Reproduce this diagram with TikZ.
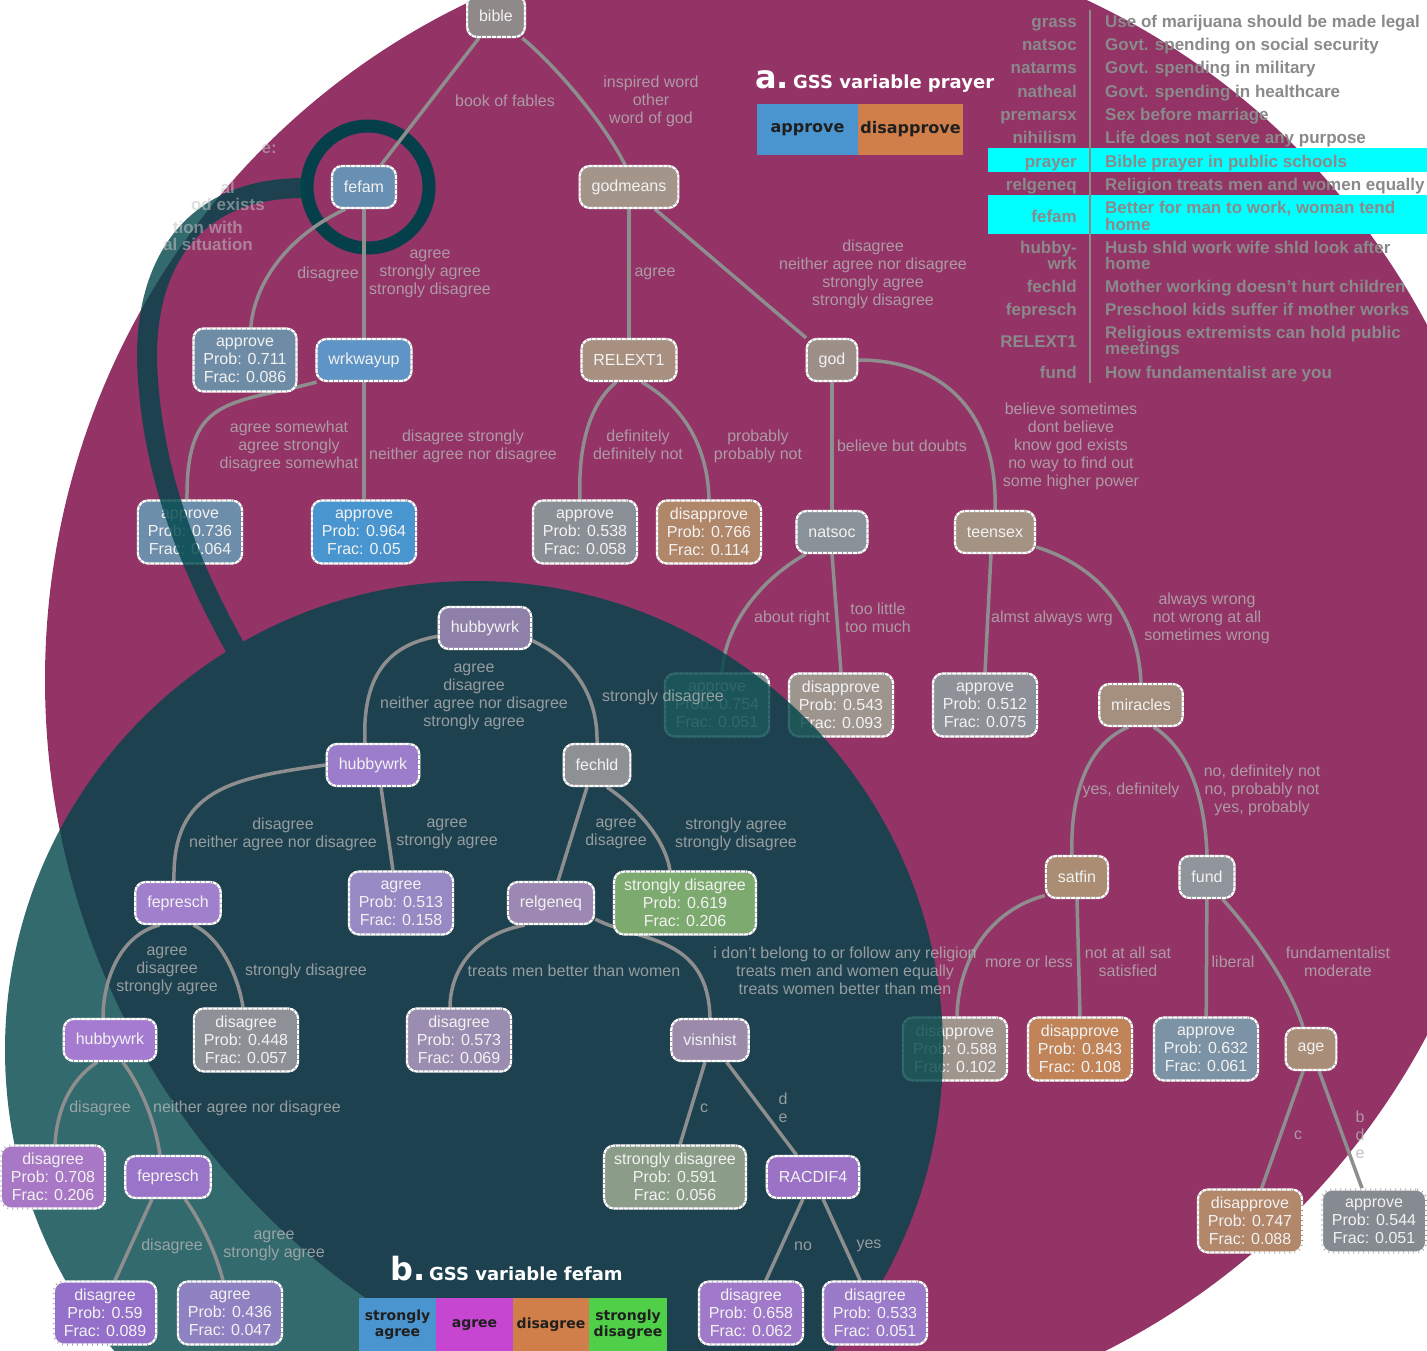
\documentclass[tikz,border=0pt]{standalone}
\usepackage{fontspec}
\setmainfont{Liberation Sans}
\newfontfamily\dejavu{DejaVu Sans}
\pgfdeclarelayer{bg}
\pgfdeclarelayer{aedge}
\pgfdeclarelayer{anode}
\pgfdeclarelayer{teal}
\pgfdeclarelayer{bedge}
\pgfdeclarelayer{top}
\pgfsetlayers{bg,aedge,anode,teal,bedge,main,top}
\definecolor{magc}{HTML}{933366}
\definecolor{tealc}{HTML}{00454A}
\definecolor{ringc}{HTML}{05404A}
\definecolor{edgec}{HTML}{8E8E8E}
\definecolor{labc}{HTML}{B4B4B4}
\definecolor{lgc}{HTML}{8A8A8A}
\definecolor{nodetxt}{HTML}{F2F2F2}
\definecolor{tickc}{HTML}{9A9A9A}
\definecolor{cyanc}{HTML}{00FFFF}
\definecolor{faintc}{HTML}{C4C4C4}
\definecolor{cbible}{HTML}{8F8A89}
\definecolor{cfefam}{HTML}{6890B2}
\definecolor{cgodm}{HTML}{A4958A}
\definecolor{ca711}{HTML}{6F8CA6}
\definecolor{cwrk}{HTML}{5F95C6}
\definecolor{crel}{HTML}{A89080}
\definecolor{cgod}{HTML}{9C8F88}
\definecolor{ca736}{HTML}{6C8EAA}
\definecolor{ca964}{HTML}{4895D0}
\definecolor{ca538}{HTML}{8B9097}
\definecolor{cd766}{HTML}{B1876A}
\definecolor{cnatsoc}{HTML}{8A9299}
\definecolor{cteen}{HTML}{A49382}
\definecolor{ca754}{HTML}{8B9297}
\definecolor{cd543}{HTML}{9E958F}
\definecolor{ca512}{HTML}{8E9197}
\definecolor{cmir}{HTML}{A58F7E}
\definecolor{csat}{HTML}{AA8D73}
\definecolor{cfund}{HTML}{8F959B}
\definecolor{cd588}{HTML}{A0958D}
\definecolor{cd843}{HTML}{C08458}
\definecolor{ca632}{HTML}{7C92A5}
\definecolor{cage}{HTML}{A88D78}
\definecolor{cd747}{HTML}{B2876A}
\definecolor{ca544}{HTML}{858B91}
\definecolor{chub0}{HTML}{8E80A8}
\definecolor{chub1}{HTML}{9B7DCC}
\definecolor{cfechld}{HTML}{8E9194}
\definecolor{cfep1}{HTML}{A07FCC}
\definecolor{cg513}{HTML}{9689C4}
\definecolor{crelg}{HTML}{9C88B2}
\definecolor{cs619}{HTML}{7DAA6F}
\definecolor{chub2}{HTML}{A57BD2}
\definecolor{cd448}{HTML}{8D9096}
\definecolor{cd573}{HTML}{9B8CB2}
\definecolor{cvis}{HTML}{9B8AAA}
\definecolor{cd708}{HTML}{A877C6}
\definecolor{cfep3}{HTML}{9A74C8}
\definecolor{cs591}{HTML}{8B9C88}
\definecolor{crac}{HTML}{9B72C6}
\definecolor{cd59}{HTML}{9570CA}
\definecolor{cg436}{HTML}{8F82C2}
\definecolor{cd658}{HTML}{A079CA}
\definecolor{cd533}{HTML}{9B7ACA}
\definecolor{lblue}{HTML}{4A94CF}
\definecolor{lorange}{HTML}{D07F4A}
\definecolor{lmag}{HTML}{C646D2}
\definecolor{lgreen}{HTML}{50CF48}
\begin{document}
\begin{tikzpicture}[x=1pt,y=-1pt,
  nd/.style={rounded corners=10pt, draw=white, line width=2.2pt, text=nodetxt,
    font=\fontsize{16}{18}\selectfont, align=center, inner xsep=12pt, inner ysep=4pt,
    minimum height=42pt,
    postaction={draw=tickc, line width=2.2pt, dash pattern=on 0.7pt off 4.3pt}},
  lf/.style={nd, minimum height=63pt, inner xsep=10pt},
  ed/.style={draw=edgec, line width=3.5pt},
  lb/.style={text=labc, text opacity=0.8, font=\fontsize{16}{18}\selectfont, align=center, inner sep=0pt},
  lgn/.style={text=lgc, font=\bfseries\fontsize{17}{17}\selectfont, inner sep=0pt, anchor=base east},
  lgd/.style={text=lgc, font=\bfseries\fontsize{17}{17}\selectfont, inner sep=0pt, anchor=base west},
  ttl/.style={text=white, inner sep=0pt, anchor=base west},
  lga/.style={inner sep=0pt, text=black!88, font=\dejavu\bfseries\fontsize{16}{16}\selectfont, minimum height=51pt},
  lgb/.style={inner sep=0pt, text=black!88, align=center, font=\dejavu\bfseries\fontsize{14}{16}\selectfont, minimum height=54pt, minimum width=77pt},
  faint/.style={text=faintc, text opacity=0.55, font=\bfseries\fontsize{17}{17}\selectfont, inner sep=0pt, anchor=base east}
]
\useasboundingbox (0,0) rectangle (1427,1350);
\begin{pgfonlayer}{bg}
\fill[white] (0,0) rectangle (1427,1350);
\begin{scope}
\clip (0,0) rectangle (1427,1350);
\fill[magc] (780,680) ellipse [x radius=735pt, y radius=748pt];
\draw[ringc, line width=13pt] (368,187) circle [radius=61pt];
\end{scope}
\end{pgfonlayer}

% ---------- tree a nodes ----------
\begin{pgfonlayer}{anode}
\node[nd, fill=cbible] (bible) at (496,16) {bible};
\node[nd, fill=cfefam] (fefam) at (364,187) {fefam};
\node[nd, fill=cgodm] (godmeans) at (629,187) {godmeans};
\node[lf, fill=ca711] (a711) at (245,360) {approve\\Prob: 0.711\\Frac: 0.086};
\node[nd, fill=cwrk] (wrkwayup) at (364,360) {wrkwayup};
\node[nd, fill=crel] (relext) at (629,360) {RELEXT1};
\node[nd, fill=cgod] (god) at (832,360) {god};
\node[lf, fill=ca736] (a736) at (190,532) {approve\\Prob: 0.736\\Frac: 0.064};
\node[lf, fill=ca964] (a964) at (364,532) {approve\\Prob: 0.964\\Frac: 0.05};
\node[lf, fill=ca538] (a538) at (585,532) {approve\\Prob: 0.538\\Frac: 0.058};
\node[lf, fill=cd766] (d766) at (709,532) {disapprove\\Prob: 0.766\\Frac: 0.114};
\node[nd, fill=cnatsoc] (natsoc) at (832,532) {natsoc};
\node[nd, fill=cteen] (teensex) at (995,532) {teensex};
\node[lf, fill=ca754] (a754) at (717,705) {approve\\Prob: 0.754\\Frac: 0.051};
\node[lf, fill=cd543] (d543) at (841,705) {disapprove\\Prob: 0.543\\Frac: 0.093};
\node[lf, fill=ca512] (a512) at (985,705) {approve\\Prob: 0.512\\Frac: 0.075};
\node[nd, fill=cmir] (miracles) at (1141,705) {miracles};
\node[nd, fill=csat] (satfin) at (1077,877) {satfin};
\node[nd, fill=cfund] (fund) at (1207,877) {fund};
\node[lf, fill=cd588] (d588) at (955,1049) {disapprove\\Prob: 0.588\\Frac: 0.102};
\node[lf, fill=cd843] (d843) at (1080,1049) {disapprove\\Prob: 0.843\\Frac: 0.108};
\node[lf, fill=ca632] (a632) at (1206,1049) {approve\\Prob: 0.632\\Frac: 0.061};
\node[nd, fill=cage] (age) at (1311,1049) {age};
\node[lf, fill=cd747] (d747) at (1250,1221) {disapprove\\Prob: 0.747\\Frac: 0.088};
\node[lf, fill=ca544] (a544) at (1374,1221) {approve\\Prob: 0.544\\Frac: 0.051};
% labels a
\node[lb] (la1) at (505,101) {book of fables};
\node[lb] (la2) at (651,101) {inspired word\\other\\word of god};
\node[lb] (la3) at (328,274) {disagree};
\node[lb] (la4) at (430,274) {agree\\strongly agree\\strongly disagree};
\node[lb] (la5) at (655,274) {agree};
\node[lb] (la6) at (873,274) {disagree\\neither agree nor disagree\\strongly agree\\strongly disagree};
\node[lb] (la7) at (289,446) {agree somewhat\\agree strongly\\disagree somewhat};
\node[lb] (la8) at (463,446) {disagree strongly\\neither agree nor disagree};
\node[lb] (la9) at (638,446) {definitely\\definitely not};
\node[lb] (la10) at (758,446) {probably\\probably not};
\node[lb] (la11) at (902,446) {believe but doubts};
\node[lb] (la12) at (1071,446) {believe sometimes\\dont believe\\know god exists\\no way to find out\\some higher power};
\node[lb] (la13) at (792,618) {about right};
\node[lb] (la14) at (878,618) {too little\\too much};
\node[lb] (la15) at (1052,618) {almst always wrg};
\node[lb] (la16) at (1207,618) {always wrong\\not wrong at all\\sometimes wrong};
\node[lb] (la17) at (1131,790) {yes, definitely};
\node[lb] (la18) at (1262,790) {no, definitely not\\no, probably not\\yes, probably};
\node[lb] (la19) at (1029,962) {more or less};
\node[lb] (la20) at (1128,962) {not at all sat\\satisfied};
\node[lb] (la21) at (1233,962) {liberal};
\node[lb] (la22) at (1338,962) {fundamentalist\\moderate};
\node[lb] (la23) at (1298,1135) {c};
\node[lb] (la24) at (1360,1135) {b\\d\\e};
\end{pgfonlayer}

% ---------- tree a edges ----------
\begin{pgfonlayer}{aedge}
\draw[ed] (bible) -- (fefam);
\draw[ed] (bible.-40) .. controls (560,70) and (605,125) .. (godmeans.100);
\draw[ed] (fefam.-130) .. controls (290,235) and (255,280) .. (a711.80);
\draw[ed] (fefam) -- (wrkwayup);
\draw[ed] (godmeans) -- (relext);
\draw[ed] (godmeans) -- (god);
\draw[ed] (wrkwayup.-155) .. controls (230,405) and (186,395) .. ([xshift=-3pt]a736.north);
\draw[ed] (wrkwayup) -- (a964);
\draw[ed] (relext.-120) .. controls (588,405) and (578,450) .. ([xshift=-5pt]a538.north);
\draw[ed] (relext.-60) .. controls (690,410) and (708,455) .. (d766.north);
\draw[ed] (god) -- (natsoc);
\draw[ed] (god.east) .. controls (950,360) and (998,420) .. (teensex.north);
\draw[ed] (natsoc.-140) .. controls (760,580) and (725,625) .. ([xshift=5pt]a754.north);
\draw[ed] (natsoc.south) -- (d543.north);
\draw[ed] ([xshift=-4pt]teensex.south) -- (a512.north);
\draw[ed] (teensex.-20) .. controls (1095,565) and (1138,610) .. (miracles.north);
\draw[ed] (miracles.-120) .. controls (1085,745) and (1070,800) .. ([xshift=-5pt]satfin.north);
\draw[ed] (miracles.-60) .. controls (1190,750) and (1205,800) .. (fund.north);
\draw[ed] (satfin.-150) .. controls (990,910) and (958,960) .. ([xshift=2pt]d588.north);
\draw[ed] (satfin.south) -- (d843.north);
\draw[ed] (fund) -- (a632);
\draw[ed] (fund.-55) .. controls (1255,935) and (1290,985) .. ([xshift=-8pt]age.north);
\draw[ed] (age) -- (d747);
\draw[ed] (age) -- (a544);
\end{pgfonlayer}

% ---------- teal overlay ----------
\begin{pgfonlayer}{teal}
\begin{scope}[transparency group, opacity=0.8]
\fill[tealc] (474,1050) circle [radius=469pt];
\draw[tealc, line width=20pt] (304,188) .. controls (180,188) and (140,280) .. (148,380)
   .. controls (155,480) and (190,570) .. (245,665);
\end{scope}
\end{pgfonlayer}

% ---------- tree b nodes ----------
\node[nd, fill=chub0] (hub0) at (485,628) {hubbywrk};
\node[nd, fill=chub1] (hub1) at (373,765) {hubbywrk};
\node[nd, fill=cfechld] (fechld) at (597,765) {fechld};
\node[nd, fill=cfep1] (fep1) at (178,903) {fepresch};
\node[lf, fill=cg513] (g513) at (401,903) {agree\\Prob: 0.513\\Frac: 0.158};
\node[nd, fill=crelg] (relg) at (551,903) {relgeneq};
\node[lf, fill=cs619] (s619) at (685,903) {strongly disagree\\Prob: 0.619\\Frac: 0.206};
\node[nd, fill=chub2] (hub2) at (110,1040) {hubbywrk};
\node[lf, fill=cd448] (d448) at (246,1040) {disagree\\Prob: 0.448\\Frac: 0.057};
\node[lf, fill=cd573] (d573) at (459,1040) {disagree\\Prob: 0.573\\Frac: 0.069};
\node[nd, fill=cvis] (vis) at (710,1040) {visnhist};
\node[lf, fill=cd708] (d708) at (53,1177) {disagree\\Prob: 0.708\\Frac: 0.206};
\node[nd, fill=cfep3] (fep3) at (168,1177) {fepresch};
\node[lf, fill=cs591] (s591) at (675,1177) {strongly disagree\\Prob: 0.591\\Frac: 0.056};
\node[nd, fill=crac] (rac) at (813,1177) {RACDIF4};
\node[lf, fill=cd59] (d59) at (105,1313) {disagree\\Prob: 0.59\\Frac: 0.089};
\node[lf, fill=cg436] (g436) at (230,1313) {agree\\Prob: 0.436\\Frac: 0.047};
\node[lf, fill=cd658] (d658) at (751,1313) {disagree\\Prob: 0.658\\Frac: 0.062};
\node[lf, fill=cd533] (d533) at (875,1313) {disagree\\Prob: 0.533\\Frac: 0.051};
% labels b
\node[lb] (lb1) at (474,697) {agree\\disagree\\neither agree nor disagree\\strongly agree};
\node[lb] (lb2) at (663,697) {strongly disagree};
\node[lb] (lb3) at (283,834) {disagree\\neither agree nor disagree};
\node[lb] (lb4) at (447,834) {agree\\strongly agree};
\node[lb] (lb5) at (616,834) {agree\\disagree};
\node[lb] (lb6) at (736,834) {strongly agree\\strongly disagree};
\node[lb] (lb7) at (167,971) {agree\\disagree\\strongly agree};
\node[lb] (lb8) at (306,971) {strongly disagree};
\node[lb] (lb9) at (574,971) {treats men better than women};
\node[lb] (lb10) at (845,971) {i don't belong to or follow any religion\\treats men and women equally\\treats women better than men};
\node[lb] (lb11) at (100,1108) {disagree};
\node[lb] (lb12) at (247,1108) {neither agree nor disagree};
\node[lb] (lb13) at (704,1108) {c};
\node[lb] (lb14) at (783,1108) {d\\e};
\node[lb] (lb15) at (172,1246) {disagree};
\node[lb] (lb16) at (274,1246) {agree\\strongly agree};
\node[lb] (lb17) at (803,1246) {no};
\node[lb] (lb18) at (869,1246) {yes};

% ---------- tree b edges ----------
\begin{pgfonlayer}{bedge}
\draw[ed] (hub0.190) .. controls (385,645) and (362,680) .. ([xshift=-8pt]hub1.north);
\draw[ed] (hub0.-15) .. controls (578,662) and (598,700) .. (fechld.north);
\draw[ed] (hub1.west) .. controls (230,778) and (172,790) .. ([xshift=-4pt]fep1.north);
\draw[ed] ([xshift=8pt]hub1.south) -- ([xshift=-8pt]g513.north);
\draw[ed] ([xshift=-10pt]fechld.south) -- ([xshift=7pt]relg.north);
\draw[ed] ([xshift=10pt]fechld.south) .. controls (640,810) and (665,840) .. ([xshift=-15pt]s619.north);
\draw[ed] (fep1.-130) .. controls (120,935) and (103,980) .. ([xshift=-7pt]hub2.north);
\draw[ed] (fep1.-55) .. controls (225,940) and (240,985) .. ([xshift=-3pt]d448.north);
\draw[ed] (relg.-140) .. controls (470,935) and (450,975) .. ([xshift=-9pt]d573.north);
\draw[ed] (relg.-20) .. controls (640,942) and (708,935) .. (vis.north);
\draw[ed] (hub2.-120) .. controls (70,1080) and (57,1110) .. ([xshift=2pt]d708.north);
\draw[ed] (hub2.-60) .. controls (140,1085) and (155,1120) .. ([xshift=-8pt]fep3.north);
\draw[ed] ([xshift=-5pt]vis.south) -- ([xshift=5pt]s591.north);
\draw[ed] (vis) -- (rac);
\draw[ed] ([xshift=-16pt]fep3.south) -- ([xshift=10pt]d59.north);
\draw[ed] ([xshift=17pt]fep3.south) .. controls (200,1220) and (215,1250) .. ([xshift=-7pt]g436.north);
\draw[ed] (rac) -- (d658);
\draw[ed] (rac) -- (d533);
\end{pgfonlayer}

% ---------- faint text fragments ----------
\node[faint] (f1) at (277,153) {e:};
\node[faint] (f2) at (235,193) {al};
\node[faint] (f3) at (265,210) {od exists};
\node[faint] (f4) at (243,233) {tion with};
\node[faint] (f5) at (253,250) {al situation};

% ---------- legends ----------
\begin{pgfonlayer}{top}
\node[ttl, font=\dejavu\bfseries\fontsize{32}{32}\selectfont] (ta) at (755,88) {a.};
\node[ttl, font=\dejavu\bfseries\fontsize{18}{18}\selectfont] (tat) at (793,88) {GSS variable prayer};
\node[lga, fill=lblue, minimum width=101pt] (lga1) at (807.5,129.5) {approve};
\node[lga, fill=lorange, minimum width=105pt] (lga2) at (910.5,129.5) {disapprove};

\node[ttl, font=\dejavu\bfseries\fontsize{32}{32}\selectfont] (tb) at (390,1280) {b.};
\node[ttl, font=\dejavu\bfseries\fontsize{18}{18}\selectfont] (tbt) at (429,1280) {GSS variable fefam};
\node[lgb, fill=lblue] (lgb1) at (397.5,1325) {strongly\\agree};
\node[lgb, fill=lmag] (lgb2) at (474.5,1325) {agree};
\node[lgb, fill=lorange] (lgb3) at (551,1325) {disagree};
\node[lgb, fill=lgreen, minimum width=78pt] (lgb4) at (628,1325) {strongly\\disagree};

\fill[cyanc] (988,148) rectangle (1427,172);
\fill[cyanc] (988,195) rectangle (1427,234);
\draw[lgc, line width=1.5pt] (1090,10) -- (1090,383);
\node[lgn] (n1) at (1077,27) {grass};
\node[lgd] (d1) at (1105,27) {Use of marijuana should be made legal};
\node[lgn] (n2) at (1077,50) {natsoc};
\node[lgd] (d2) at (1105,50) {Govt. spending on social security};
\node[lgn] (n3) at (1077,73) {natarms};
\node[lgd] (d3) at (1105,73) {Govt. spending in military};
\node[lgn] (n4) at (1077,97) {natheal};
\node[lgd] (d4) at (1105,97) {Govt. spending in healthcare};
\node[lgn] (n5) at (1077,120) {premarsx};
\node[lgd] (d5) at (1105,120) {Sex before marriage};
\node[lgn] (n6) at (1077,143) {nihilism};
\node[lgd] (d6) at (1105,143) {Life does not serve any purpose};
\node[lgn] (n7) at (1077,167) {prayer};
\node[lgd] (d7) at (1105,167) {Bible prayer in public schools};
\node[lgn] (n8) at (1077,190) {relgeneq};
\node[lgd] (d8) at (1105,190) {Religion treats men and women equally};
\node[lgn] (n9) at (1077,222) {fefam};
\node[lgd] (d9a) at (1105,213) {Better for man to work, woman tend};
\node[lgd] (d9b) at (1105,230) {home};
\node[lgn] (n10a) at (1077,253) {hubby-};
\node[lgn] (n10b) at (1077,269) {wrk};
\node[lgd] (d10a) at (1105,253) {Husb shld work wife shld look after};
\node[lgd] (d10b) at (1105,269) {home};
\node[lgn] (n11) at (1077,292) {fechld};
\node[lgd] (d11) at (1105,292) {Mother working doesn’t hurt children};
\node[lgn] (n12) at (1077,315) {fepresch};
\node[lgd] (d12) at (1105,315) {Preschool kids suffer if mother works};
\node[lgn] (n13) at (1077,347) {RELEXT1};
\node[lgd] (d13a) at (1105,338) {Religious extremists can hold public};
\node[lgd] (d13b) at (1105,354) {meetings};
\node[lgn] (n14) at (1077,378) {fund};
\node[lgd] (d14) at (1105,378) {How fundamentalist are you};
\end{pgfonlayer}
\end{tikzpicture}
\end{document}
